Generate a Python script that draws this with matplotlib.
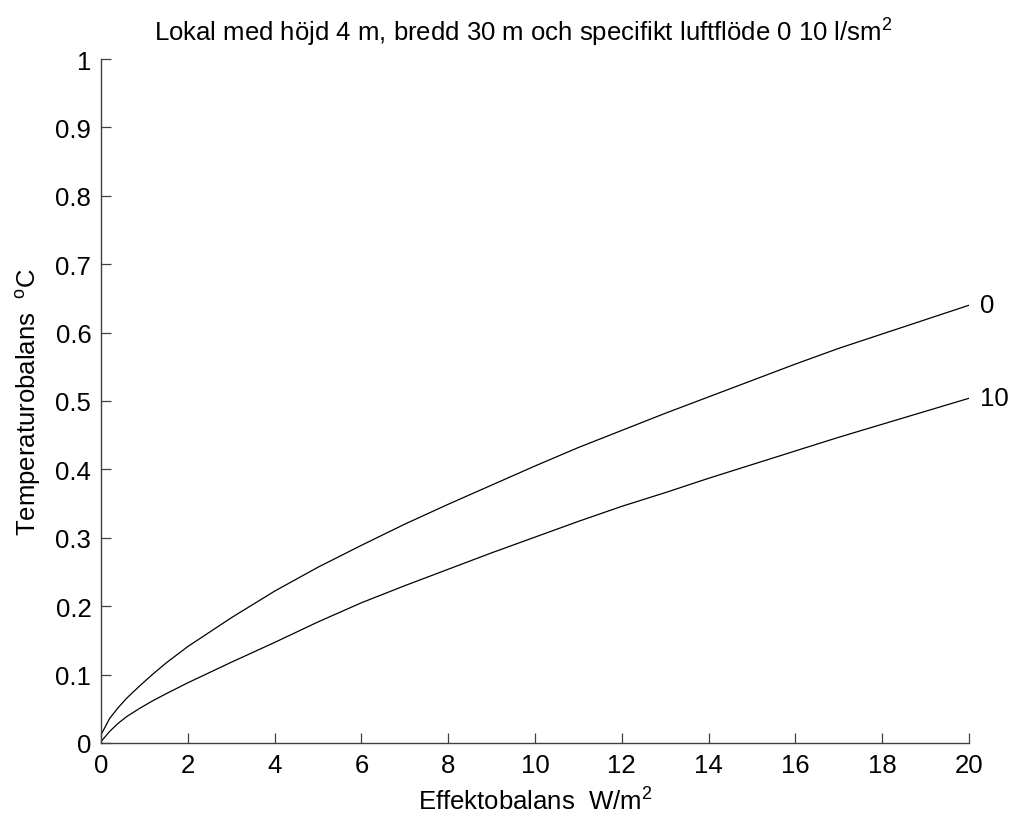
import numpy as np
import matplotlib
matplotlib.use("Agg")
import matplotlib.pyplot as plt

plt.rcParams['font.family'] = ['Liberation Sans', 'DejaVu Sans']
plt.rcParams['mathtext.fontset'] = 'custom'
plt.rcParams['mathtext.rm'] = 'Liberation Sans'
plt.rcParams['mathtext.it'] = 'Liberation Sans:italic'

# effektobalans W/m2
x_vals = [0, 0.2, 0.4, 0.6, 0.9, 1.2, 1.5, 2, 3, 4, 5, 6, 7, 8, 9, 10,
          11, 12, 13, 14, 15, 16, 17, 18, 19, 20]
# temperaturobalans, luftflöde 0 l/sm2
temp_0 = [0.012, 0.036, 0.052, 0.066, 0.084, 0.101, 0.117, 0.141, 0.183, 0.222, 0.257, 0.289,
          0.320, 0.349, 0.377, 0.405, 0.432, 0.457, 0.482, 0.506, 0.530, 0.554, 0.577, 0.598,
          0.619, 0.640]
# temperaturobalans, luftflöde 10 l/sm2
temp_10 = [0.002, 0.017, 0.029, 0.039, 0.051, 0.062, 0.072, 0.088, 0.118, 0.147, 0.177, 0.205,
           0.230, 0.254, 0.278, 0.301, 0.324, 0.346, 0.366, 0.387, 0.407, 0.427, 0.447, 0.466,
           0.485, 0.504]
curve_labels = ['0', '10']
x_ticks = [0, 2, 4, 6, 8, 10, 12, 14, 16, 18, 20]
y_ticks = [0, 0.1, 0.2, 0.3, 0.4, 0.5, 0.6, 0.7, 0.8, 0.9, 1]

fs = 18.5
fig = plt.figure(figsize=(10.11, 8.2), dpi=100)
ax = fig.add_axes([101 / 1011, 76 / 820, 868 / 1011, 684 / 820])

for yv, lab in zip([temp_0, temp_10], curve_labels):
    ax.plot(x_vals, yv, color='black', linewidth=0.9)
    ax.text(x_vals[-1] + 0.25, yv[-1], lab, fontsize=fs, ha='left', va='center')

ax.set_xlim(0, 20)
ax.set_ylim(0, 1)
ax.set_xticks(x_ticks)
ax.set_xticklabels([str(t) for t in x_ticks])
ax.set_yticks(y_ticks)
ax.set_yticklabels(['0' if t == 0 else ('1' if t == 1 else f"{t:.1f}") for t in y_ticks])

for side in ['top', 'right']:
    ax.spines[side].set_visible(False)
for side in ['left', 'bottom']:
    ax.spines[side].set_color('#404040')
    ax.spines[side].set_linewidth(1.0)
ax.tick_params(direction='in', length=7, width=0.9, color='#404040',
               labelsize=fs, pad=7)

ax.set_title(r'Lokal med höjd 4 m, bredd 30 m och specifikt luftflöde 0 10 l/sm$^2$',
             fontsize=fs, pad=13, x=0.487)
ax.set_xlabel(r'Effektobalans  W/m$^2$', fontsize=fs, labelpad=8)
ax.set_ylabel(r'Temperaturobalans  $^{\mathrm{o}}$C', fontsize=fs, labelpad=9)

fig.savefig('out.png', dpi=100)
plt.close(fig)
